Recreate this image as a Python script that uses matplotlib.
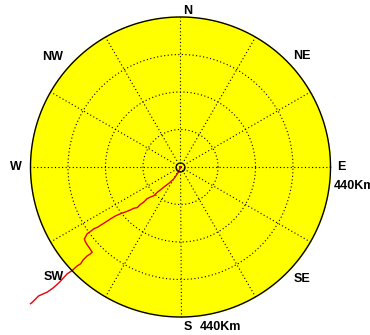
"""Polar range/bearing plot of a track, drawn on a plain axes in km units."""
import numpy as np
import matplotlib
matplotlib.use("Agg")
import matplotlib.pyplot as plt

# 航迹：东向 / 北向距离 (km)，以雷达为原点
track_east = [0, -5, -12, -20, -33, -49, -60, -68, -78, -88, -98, -108, -118, -127,
              -137, -147, -162, -176, -190, -205, -225, -244, -254, -264, -274,
              -282, -280, -277, -269, -259, -266, -274, -286, -293, -303, -318,
              -332, -345, -357, -374, -391, -416, -435, -440]
track_north = [0, -13, -24, -35, -47, -59, -68, -74, -84, -88, -93, -103, -110, -119,
               -121, -126, -132, -137, -143, -152, -165, -177, -181, -189, -196,
               -211, -217, -223, -235, -250, -256, -261, -273, -284, -290, -304,
               -313, -327, -340, -355, -367, -378, -397, -401]

R_MAX = 440                      # km
RINGS = [110, 220, 330]           # km
SPOKES = np.arange(0, 360, 30)    # deg
DIR_LABELS = ["N", "NE", "E", "SE", "S", "SW", "W", "NW"]
RANGE_LABEL = "440Km"

W, H = 370, 335
CX, CY = 180.5, 167.0            # 圆心像素位置
K = R_MAX / 150.0                 # km / px


def px(x, y):
    """像素坐标 -> km 坐标（仅用于放文字）"""
    return (x - CX) * K, (CY - y) * K


fig = plt.figure(figsize=(W / 100, H / 100), dpi=100)
ax = fig.add_axes([0, 0, 1, 1])
ax.set_xlim(-CX * K, (W - CX) * K)
ax.set_ylim(-(H - CY) * K, CY * K)
ax.axis("off")

# 底盘
th = np.linspace(0, 2 * np.pi, 400)
ax.fill(R_MAX * np.cos(th), R_MAX * np.sin(th), color="#ffff00", zorder=1)
ax.plot(R_MAX * np.cos(th), R_MAX * np.sin(th), color="black", lw=1.0, zorder=4)

dots = (0, (1, 2.2))
for r in RINGS:
    ax.plot(r * np.cos(th), r * np.sin(th), color="black", lw=0.8, ls=dots, zorder=2)
for a in SPOKES:
    t = np.deg2rad(a)
    ax.plot([0, R_MAX * np.sin(t)], [0, R_MAX * np.cos(t)],
            color="black", lw=0.8, ls=dots, zorder=2)

ax.plot([0], [0], "o", ms=6.5, mfc="none", mec="black", mew=0.9, zorder=5)

# 航迹
ax.plot(track_east, track_north, color="#e8000b", lw=1.0, zorder=3, clip_on=False)

# 方位文字
label_px = {"N": (187.5, 10.5), "NE": (302, 56.5), "E": (341.5, 167.5),
            "SE": (302, 278.5), "S": (187.5, 326.5), "SW": (53.5, 277.5),
            "W": (16, 167.5), "NW": (53, 57)}
fk = dict(fontsize=9, fontweight="bold", family=["Liberation Sans", "DejaVu Sans"],
          ha="center", va="center")
for name in DIR_LABELS:
    ax.text(*px(*label_px[name]), name, **fk)
ax.text(*px(334, 186.5), RANGE_LABEL, **{**fk, "ha": "left"})
ax.text(*px(200, 326.5), RANGE_LABEL, **{**fk, "ha": "left"})

fig.savefig("out.png", dpi=100)
